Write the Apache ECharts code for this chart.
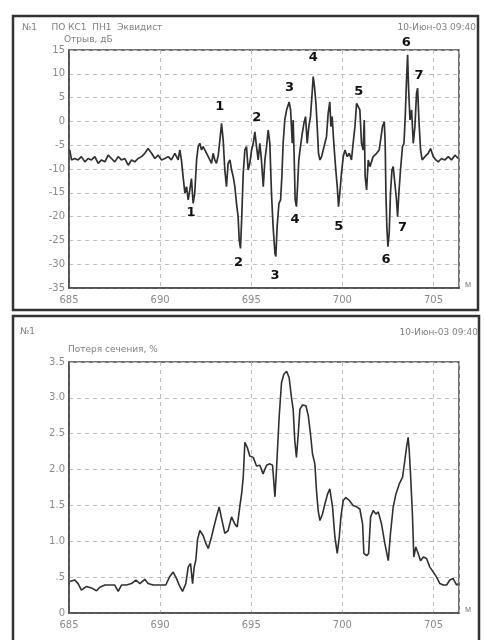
<!DOCTYPE html>
<html><head><meta charset="utf-8">
<script src="https://cdn.jsdelivr.net/npm/echarts@6/dist/echarts.min.js"></script>
<style>html,body{margin:0;padding:0;background:#fff}#c{width:484px;height:640px}</style>
</head><body><div id="c"></div>
<script>
// ---- Data (x in distance units) ----
const xTicks = [685, 690, 695, 700, 705];
const topYTicks = [15, 10, 5, 0, -5, -10, -15, -20, -25, -30, -35];
const botYTicks = ['0', '.5', '1.0', '1.5', '2.0', '2.5', '3.0', '3.5'];

// Upper chart: signal (dB)
const sigX = [685.04,685.14,685.32,685.50,685.68,685.87,686.05,686.23,686.42,686.60,686.78,686.97,687.15,687.33,687.51,687.70,687.88,688.06,688.25,688.43,688.61,688.79,688.98,689.16,689.34,689.53,689.71,689.89,690.08,690.26,690.44,690.62,690.81,690.99,691.08,691.17,691.26,691.36,691.45,691.54,691.63,691.72,691.81,691.90,692.00,692.09,692.18,692.27,692.36,692.55,692.73,692.82,692.91,693.00,693.09,693.19,693.28,693.37,693.46,693.55,693.64,693.73,693.83,693.92,694.01,694.10,694.19,694.28,694.34,694.41,694.48,694.56,694.65,694.74,694.83,694.92,695.02,695.11,695.20,695.29,695.38,
695.47,695.56,695.66,695.75,695.84,695.93,696.02,696.11,696.20,696.30,696.35,696.42,696.52,696.61,696.68,696.75,696.84,696.94,697.03,697.08,697.16,697.25,697.30,697.36,697.41,697.48,697.54,697.61,697.70,697.80,697.89,697.98,698.07,698.16,698.25,698.34,698.40,698.47,698.55,698.62,698.69,698.77,698.86,698.95,699.04,699.13,699.22,699.31,699.37,699.44,699.53,699.64,699.72,699.79,699.86,699.95,700.05,700.14,700.27,700.38,700.50,700.59,700.69,700.78,700.87,700.96,701.05,701.14,701.20,701.25,701.33,701.42,701.51,701.69,701.88,702.02,702.10,702.20,702.30,702.35,702.39,702.44,702.50,702.57,702.64,702.72,702.79,702.88,702.97,703.03,703.10,703.19,703.30,703.38,703.45,703.52,703.58,703.63,703.71,703.80,703.89,703.98,704.07,704.13,704.20,704.29,704.38,704.53,704.71,704.84,704.99,705.13,705.26,705.44,705.63,705.81,705.99,706.18,706.36];
const sigY = [-6.0,-8.1,-7.8,-8.1,-7.4,-8.5,-7.8,-8.1,-7.4,-8.8,-8.1,-8.5,-7.1,-7.8,-8.5,-7.4,-8.1,-7.8,-9.2,-8.1,-8.5,-7.8,-7.4,-6.7,-5.7,-6.7,-7.8,-7.1,-8.1,-7.8,-7.4,-8.1,-6.7,-8.1,-6.0,-8.1,-11.6,-15.1,-13.7,-16.5,-14.4,-12.0,-17.2,-15.1,-8.1,-5.3,-4.6,-6.0,-5.3,-6.7,-8.1,-8.8,-6.7,-8.1,-8.8,-7.1,-3.9,-0.4,-3.9,-10.2,-13.7,-8.8,-8.1,-10.2,-11.6,-13.7,-17.2,-20.0,-24.9,-26.7,-20.0,-10.9,-6.0,-5.3,-10.2,-8.8,-6.0,-4.6,-2.2,-5.3,-8.1,
-4.6,-8.1,-13.7,-8.1,-5.3,-1.8,-4.6,-15.1,-22.1,-27.7,-28.4,-22.1,-17.2,-16.5,-11.6,-4.6,0.3,2.4,2.0,4.1,2.4,-4.6,0.3,-8.1,-16.5,-17.9,-13.7,-8.1,-5.3,-2.5,-0.4,1.0,-4.6,-1.1,1.0,5.9,9.4,7.3,3.8,-1.1,-6.7,-8.1,-7.4,-6.0,-4.6,-3.2,1.7,4.1,-1.1,1.0,-4.6,-10.2,-13.7,-17.9,-15.1,-10.9,-7.4,-6.0,-7.4,-6.7,-8.1,-4.6,-1.1,3.8,4.1,2.4,-4.6,-6.0,0.3,-11.6,-14.4,-8.1,-9.5,-7.4,-6.7,-6.0,-3.9,-1.1,-0.1,-4.6,-15.1,-22.1,-26.3,-23.5,-15.1,-10.2,-9.5,-13.0,-16.5,-20.0,-15.1,-10.2,-5.3,-4.6,1.0,8.7,14.0,7.3,0.3,2.4,-4.6,-1.1,5.9,7.0,0.3,-6.0,-8.1,-7.4,-6.7,-5.7,-7.4,-8.1,-8.5,-7.8,-8.1,-7.4,-8.1,-7.1,-7.8];

// Upper chart: defect number annotations
const markText = ['1','2','3','4','5','6','7','1','2','3','4','5','6','7'];
const markX = [693.28,695.3,697.1,698.4,700.9,703.5,704.2,691.7,694.3,696.3,697.4,699.8,702.4,703.3];
const markY = [3.0,0.7,7.0,13.5,6.2,16.5,9.7,-19.2,-29.7,-32.3,-20.7,-22.2,-29.1,-22.4];

// Lower chart: section loss (%)
const lossX = [685.04,685.32,685.50,685.68,685.96,686.23,686.51,686.69,686.97,687.24,687.51,687.70,687.88,688.15,688.43,688.67,688.89,689.16,689.34,689.62,689.98,690.31,690.53,690.72,690.90,691.08,691.23,691.41,691.54,691.67,691.78,691.87,691.96,692.05,692.18,692.36,692.51,692.64,692.82,692.95,693.09,693.24,693.37,693.55,693.73,693.92,694.10,694.23,694.37,694.47,694.56,694.65,694.78,694.92,695.11,695.29,
695.47,695.65,695.84,696.02,696.17,696.30,696.39,696.53,696.66,696.79,696.94,697.08,697.21,697.30,697.39,697.48,697.58,697.67,697.81,698.00,698.13,698.25,698.36,698.49,698.58,698.67,698.77,698.91,699.04,699.19,699.31,699.46,699.59,699.72,699.83,699.92,700.05,700.19,700.38,700.59,700.78,700.96,701.11,701.18,701.33,701.44,701.55,701.69,701.84,701.97,702.15,702.33,702.52,702.64,702.79,702.94,703.12,703.30,703.43,703.52,703.61,703.67,703.74,703.85,703.92,704.03,704.16,704.29,704.44,704.62,704.80,704.99,705.17,705.35,705.53,705.72,705.90,706.08,706.27,706.36];
const lossY = [0.44,0.46,0.41,0.32,0.37,0.35,0.31,0.36,0.39,0.39,0.39,0.30,0.39,0.39,0.41,0.46,0.41,0.47,0.41,0.39,0.39,0.39,0.51,0.57,0.48,0.37,0.30,0.41,0.64,0.69,0.41,0.64,0.74,1.02,1.15,1.08,0.97,0.90,1.06,1.20,1.34,1.48,1.32,1.11,1.15,1.34,1.24,1.20,1.48,1.66,1.89,2.38,2.31,2.19,2.17,2.05,
2.06,1.94,2.06,2.08,2.06,1.62,2.02,2.73,3.21,3.33,3.37,3.28,3.00,2.84,2.40,2.17,2.50,2.84,2.90,2.89,2.75,2.50,2.22,2.08,1.71,1.43,1.29,1.38,1.52,1.66,1.73,1.48,1.06,0.83,1.06,1.34,1.57,1.61,1.57,1.50,1.48,1.45,1.24,0.83,0.80,0.83,1.34,1.43,1.38,1.41,1.24,0.97,0.73,1.11,1.48,1.66,1.80,1.89,2.13,2.31,2.45,2.26,1.94,1.34,0.78,0.92,0.83,0.73,0.78,0.76,0.64,0.57,0.50,0.41,0.39,0.39,0.46,0.48,0.39,0.41];

// Header texts
const topHeadL = '№1     ПО КС1  ПН1  Эквидист';
const topSub = 'Отрыв, дБ';
const dateText = '10-Июн-03 09:40';
const botHeadL = '№1';
const botSub = 'Потеря сечения, %';
const xUnit = 'м';

// ---- Chart ----
const zip = (a, b) => a.map((v, i) => [v, b[i]]);
const chart = echarts.init(document.getElementById('c'), null, {renderer: 'canvas'});
const lab = {color: '#8a8a8a', fontSize: 10, fontFamily: 'DejaVu Sans'};
const gridLine = {show: true, lineStyle: {color: '#bdbdbd', type: [4, 4], width: 1}};
function xAx(gi) {
  return {
    type: 'value', gridIndex: gi, min: xTicks[0], max: 706.4, interval: 5,
    axisLine: {show: true, onZero: false, lineStyle: {color: '#4a4a4a', width: 1.5}},
    axisTick: {show: false},
    axisLabel: Object.assign({margin: 7, showMaxLabel: false}, lab),
    splitLine: gridLine,
    name: xUnit, nameLocation: 'end', nameGap: 6,
    nameTextStyle: {color: '#888', fontSize: 9, verticalAlign: 'top', padding: [-8, 0, 0, 0]}
  };
}
chart.setOption({
  animation: false,
  backgroundColor: '#fff',
  grid: [
    {left: 69, right: 25, top: 50, bottom: 352, show: true, borderColor: '#4a4a4a', borderWidth: 1.5},
    {left: 69, right: 25, top: 362, bottom: 27, show: true, borderColor: '#4a4a4a', borderWidth: 1.5}
  ],
  xAxis: [xAx(0), xAx(1)],
  yAxis: [
    {type: 'value', gridIndex: 0, min: topYTicks[topYTicks.length - 1], max: topYTicks[0], interval: 5,
     axisLine: {show: true, lineStyle: {color: '#4a4a4a', width: 1.5}}, axisTick: {show: false},
     axisLabel: Object.assign({margin: 4}, lab), splitLine: gridLine},
    {type: 'value', gridIndex: 1, min: 0, max: 3.5, interval: 0.5,
     axisLine: {show: true, lineStyle: {color: '#4a4a4a', width: 1.5}}, axisTick: {show: false},
     axisLabel: Object.assign({margin: 4, formatter: v => botYTicks[Math.round(v * 2)]}, lab), splitLine: gridLine}
  ],
  series: [
    {type: 'line', xAxisIndex: 0, yAxisIndex: 0, data: zip(sigX, sigY), symbol: 'none',
     lineStyle: {color: '#303030', width: 1.7}},
    {type: 'scatter', xAxisIndex: 0, yAxisIndex: 0, clip: false, symbolSize: 1,
     itemStyle: {color: 'rgba(0,0,0,0)'},
     data: markX.map((x, i) => ({value: [x, markY[i]], name: markText[i]})),
     label: {show: true, position: 'inside', formatter: p => p.name, color: '#111',
             textBorderWidth: 0, opacity: 1,
             fontSize: 13, fontWeight: 'bold', fontFamily: 'DejaVu Sans'},
     z: 5},
    {type: 'line', xAxisIndex: 1, yAxisIndex: 1, data: zip(lossX, lossY), symbol: 'none',
     lineStyle: {color: '#303030', width: 1.6}}
  ],
  graphic: [
    {type: 'rect', shape: {x: 13, y: 16, width: 465, height: 294}, style: {fill: 'none', stroke: '#333', lineWidth: 2.5}},
    {type: 'rect', shape: {x: 13, y: 316, width: 466, height: 340}, style: {fill: 'none', stroke: '#333', lineWidth: 2.5}},
    {type: 'text', left: 22, top: 23, style: {text: topHeadL, fill: '#808080', font: '9px DejaVu Sans'}},
    {type: 'text', left: 64, top: 35, style: {text: topSub, fill: '#808080', font: '9px DejaVu Sans'}},
    {type: 'text', right: 8, top: 23, style: {text: dateText, fill: '#808080', font: '9px DejaVu Sans'}},
    {type: 'text', left: 20, top: 327, style: {text: botHeadL, fill: '#808080', font: '9px DejaVu Sans'}},
    {type: 'text', left: 68, top: 345, style: {text: botSub, fill: '#808080', font: '9px DejaVu Sans'}},
    {type: 'text', right: 6, top: 328, style: {text: dateText, fill: '#808080', font: '9px DejaVu Sans'}}
  ]
});
</script></body></html>
